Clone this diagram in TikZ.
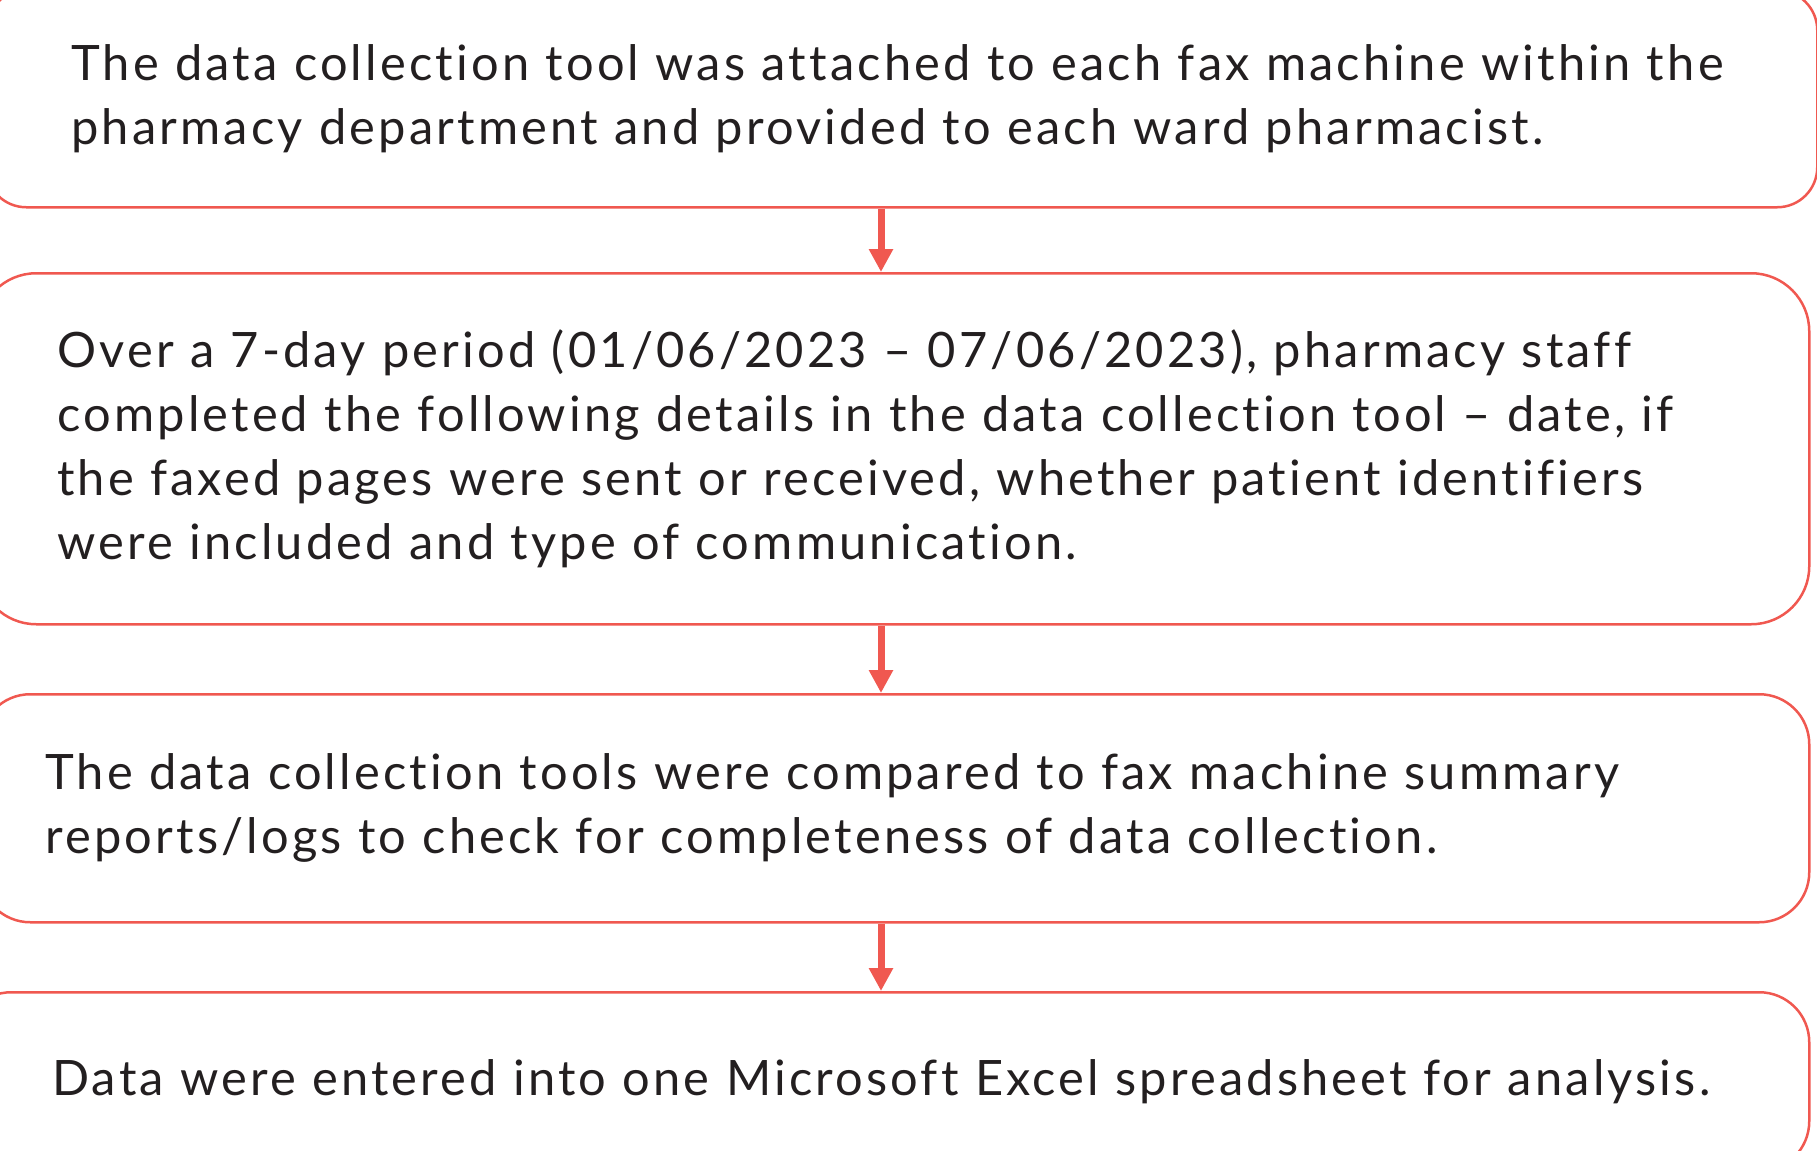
\documentclass[tikz,border=0pt]{standalone}
\usepackage{fontspec}
\setmainfont{Lato}[LetterSpace=6.5,Ligatures=NoCommon]
\usepackage{tikz}
\usetikzlibrary{arrows.meta}
\definecolor{flowred}{RGB}{240,88,80}
\definecolor{textblack}{RGB}{35,31,32}
\tikzset{
  stepbox/.style={draw=flowred, line width=1.25pt, anchor=north west, align=left,
    inner ysep=0pt, text=textblack, font=\fontsize{24.4pt}{32pt}\selectfont},
  flowarrow/.style={draw=flowred, line width=3.5pt, -{Triangle[width=11.5pt,length=11.5pt]}}
}
\begin{document}
\begin{tikzpicture}[x=0.5pt,y=-0.5pt]
\useasboundingbox (0,0) rectangle (1817,1151);

\node[stepbox, rounded corners=20pt, minimum height=108.5pt, text width=830.5pt, inner xsep=42.5pt] (attach) at (-15,-11)
  {The data collection tool was attached to each fax machine within the\\
   pharmacy department and provided to each ward pharmacist.};
\node[stepbox, rounded corners=29pt, minimum height=175.5pt, text width=836.5pt, inner xsep=39.5pt] (record) at (-23,272)
  {Over a 7-day period (01/06/2023 – 07/06/2023), pharmacy staff\\
   completed the following details in the data collection tool – date, if\\
   the faxed pages were sent or received, whether patient identifiers\\
   were included and type of communication.};
\node[stepbox, rounded corners=25pt, minimum height=114pt, text width=849.5pt, inner xsep=32.5pt] (compare) at (-21,693)
  {The data collection tools were compared to fax machine summary\\
   reports/logs to check for completeness of data collection.};
\node[stepbox, rounded corners=25pt, minimum height=89.5pt, text width=833pt, inner xsep=45.5pt] (enter) at (-40,991)
  {Data were entered into one Microsoft Excel spreadsheet for analysis.};

\draw[flowarrow] (attach.south -| 881,0) -- (record.north -| 881,0);
\draw[flowarrow] (record.south -| 881,0) -- (compare.north -| 881,0);
\draw[flowarrow] (compare.south -| 881,0) -- (enter.north -| 881,0);

\end{tikzpicture}
\end{document}
